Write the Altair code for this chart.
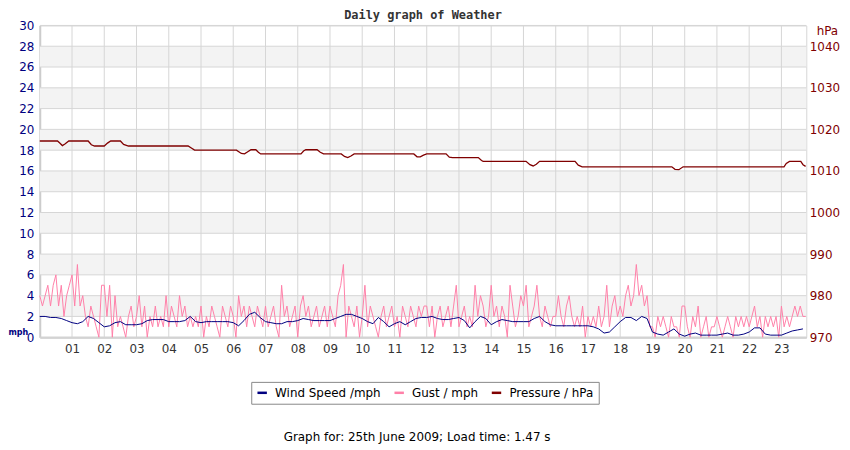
import numpy as np
import pandas as pd
import altair as alt

# gusts in mph, one reading every 5 minutes from 00:00 (one row per hour)
gust = [
    4, 3, 4, 5, 3, 5, 6, 3, 5, 2, 4, 5,   # 00
    6, 3, 7, 3, 4, 2, 1, 3, 2, 1, 0, 5,   # 01
    5, 2, 5, 0, 4, 1, 2, 1, 0, 2, 3, 1,   # 02
    2, 4, 1, 3, 0, 2, 1, 3, 1, 2, 1, 4,   # 03
    1, 3, 2, 1, 4, 2, 3, 1, 2, 1, 2, 1,   # 04
    3, 0, 2, 1, 3, 2, 1, 0, 3, 2, 1, 3,   # 05
    2, 0, 4, 2, 3, 1, 3, 2, 1, 3, 2, 1,   # 06
    3, 1, 2, 3, 1, 0, 5, 2, 3, 1, 2, 3,   # 07
    0, 3, 4, 2, 3, 1, 2, 3, 1, 2, 3, 1,   # 08
    3, 2, 1, 4, 5, 7, 0, 3, 2, 1, 3, 0,   # 09
    2, 5, 1, 3, 2, 1, 0, 2, 3, 1, 2, 3,   # 10
    1, 2, 0, 3, 2, 1, 3, 2, 1, 3, 2, 3,   # 11
    3, 1, 3, 0, 2, 3, 1, 2, 3, 1, 3, 5,   # 12
    1, 2, 3, 1, 2, 1, 5, 2, 4, 3, 1, 2,   # 13
    5, 2, 3, 1, 3, 2, 0, 5, 3, 1, 2, 4,   # 14
    3, 5, 1, 2, 3, 5, 2, 1, 3, 2, 1, 2,   # 15
    2, 4, 2, 1, 3, 4, 2, 1, 2, 1, 3, 0,   # 16
    2, 1, 2, 1, 3, 1, 2, 5, 1, 3, 4, 2,   # 17
    3, 2, 4, 5, 3, 4, 7, 4, 5, 3, 4, 1,   # 18
    1, 0, 2, 1, 2, 1, 0, 2, 1, 1, 0, 3,   # 19
    3, 1, 0, 2, 1, 3, 0, 1, 2, 0, 1, 1,   # 20
    2, 1, 0, 1, 2, 1, 0, 2, 1, 2, 1, 2,   # 21
    1, 2, 3, 1, 2, 0, 2, 1, 2, 1, 2, 0,   # 22
    3, 1, 2, 1, 2, 3, 2, 3, 2, 2,         # 23
]

# average wind speed in mph, one reading every 10 minutes
wind = [
    2.0, 2.0, 1.9, 1.9, 1.8, 1.6,
    1.4, 1.3, 1.5, 2.0, 1.8, 1.4,
    1.0, 1.1, 1.4, 1.5, 1.2, 1.2,
    1.2, 1.3, 1.6, 1.7, 1.7, 1.7,
    1.5, 1.5, 1.5, 1.6, 2.0, 1.5,
    1.4, 1.5, 1.5, 1.5, 1.5, 1.5,
    1.4, 1.1, 1.6, 2.2, 2.4, 1.9,
    1.5, 1.4, 1.3, 1.3, 1.5, 1.5,
    1.6, 1.8, 1.7, 1.6, 1.6, 1.6,
    1.6, 1.8, 2.0, 2.2, 2.2, 2.0,
    1.8, 1.5, 1.3, 1.9, 1.5, 1.0,
    1.3, 1.5, 1.2, 1.5, 1.8, 1.9,
    1.9, 2.0, 1.8, 1.7, 1.7, 1.8,
    1.9, 1.6, 0.9, 1.5, 2.0, 1.8,
    1.2, 1.5, 1.7, 1.6, 1.5, 1.5,
    1.5, 1.5, 1.8, 2.0, 1.5, 1.2,
    1.1, 1.1, 1.1, 1.1, 1.1, 1.1,
    1.1, 1.0, 0.8, 0.4, 0.5, 1.0,
    1.5, 1.9, 1.9, 1.6, 2.0, 1.8,
    0.5, 0.3, 0.2, 0.5, 0.8, 0.3,
    0.1, 0.3, 0.4, 0.2, 0.2, 0.2,
    0.2, 0.3, 0.4, 0.2, 0.2, 0.3,
    0.5, 0.9, 0.9, 0.3, 0.2, 0.2,
    0.2, 0.4, 0.6, 0.7, 0.8,
]

# pressure changes (hour of day, hPa)
pressure_hours = [
    0, 0.55, 0.62, 0.7, 0.78, 0.9, 1.5, 1.6, 1.7, 2.0, 2.1, 2.2, 2.5, 2.6, 2.75,
    4.6, 4.7, 4.8, 6.1, 6.25, 6.35, 6.45, 6.55, 6.7, 6.78, 6.85, 8.1, 8.18, 8.25,
    8.6, 8.7, 8.8, 9.35, 9.45, 9.55, 9.65, 9.75, 11.6, 11.7, 11.8, 11.9, 12.0,
    12.6, 12.7, 12.8, 13.6, 13.7, 13.75, 15.08, 15.2, 15.3, 15.4, 15.5, 16.6,
    16.7, 16.82, 19.6, 19.7, 19.82, 19.95, 23.08, 23.15, 23.25, 23.6, 23.67, 23.75,
]
pressure_hpa = [
    1017.2, 1017.2, 1016.7, 1016.1, 1016.5, 1017.2, 1017.2, 1016.3, 1016.0, 1016.0,
    1016.7, 1017.2, 1017.2, 1016.4, 1016.0, 1016.0, 1015.5, 1015.0, 1015.0, 1014.2,
    1014.1, 1014.6, 1015.1, 1015.1, 1014.5, 1014.1, 1014.1, 1014.8, 1015.1, 1015.1,
    1014.5, 1014.1, 1014.1, 1013.5, 1013.2, 1013.6, 1014.1, 1014.1, 1013.4, 1013.4,
    1013.8, 1014.1, 1014.1, 1013.3, 1013.2, 1013.2, 1012.5, 1012.3, 1012.3, 1011.5,
    1011.2, 1011.6, 1012.3, 1012.3, 1011.4, 1011.0, 1011.0, 1010.4, 1010.3, 1011.0,
    1011.0, 1011.8, 1012.3, 1012.3, 1011.5, 1011.1,
]

hour_ticks = list(range(1, 24))
mph_ticks = list(range(0, 31, 2))
hpa_ticks = list(range(970, 1041, 10))
band_starts = [2, 6, 10, 14, 18, 22, 26]

series_names = ["Wind Speed /mph", "Gust / mph", "Pressure / hPa"]
series_colors = ["#000080", "#ff80a8", "#800000"]
title = "Daily graph of Weather"
footer = "Graph for: 25th June 2009; Load time: 1.47 s"

x_end = 23.77
W, H = 772, 314
FONT = "DejaVu Sans"
GRID = "#d6d6d6"

gust_df = pd.DataFrame({"hour": np.arange(len(gust)) / 12, "mph": gust, "series": series_names[1]})
wind_df = pd.DataFrame({"hour": np.arange(len(wind)) / 6, "mph": wind, "series": series_names[0]})
press_df = pd.DataFrame({"hour": pressure_hours, "hpa": pressure_hpa, "series": series_names[2]})
bands_df = pd.DataFrame({"lo": band_starts, "hi": [b + 2 for b in band_starts], "x0": 0.0, "x1": x_end})
vgrid_df = pd.DataFrame({"hour": hour_ticks})
hgrid_df = pd.DataFrame({"v": mph_ticks})

xscale = alt.Scale(domain=[0, x_end], nice=False, zero=False)
mph_scale = alt.Scale(domain=[0, 30], nice=False)
hpa_scale = alt.Scale(domain=[970, 1045], nice=False, zero=False)

x_axis = alt.Axis(
    values=hour_ticks, labelExpr="datum.value < 10 ? '0' + datum.value : '' + datum.value",
    grid=False, ticks=False, domainColor="#cccccc", domainWidth=2, title=None,
    labelFont=FONT, labelFontSize=12, labelColor="#333333", labelPadding=6,
)
mph_axis = alt.Axis(
    values=mph_ticks, format="d", grid=False, ticks=False, domainColor="#cccccc", domainWidth=2,
    labelFont=FONT, labelFontSize=12, labelColor="#000080", labelPadding=6,
    title="mph", titleAngle=0, titleX=-32, titleY=308, titleAlign="left",
    titleBaseline="middle", titleFont="DejaVu Sans Condensed", titleFontSize=9,
    titleFontWeight="bold", titleColor="#000080",
)
hpa_axis = alt.Axis(
    orient="right", values=hpa_ticks, format="d", grid=False, ticks=False, domain=False,
    labelFont=FONT, labelFontSize=12, labelColor="#800000", labelPadding=3,
    title="hPa", titleAngle=0, titleX=10, titleY=5, titleAlign="left",
    titleBaseline="middle", titleFont=FONT, titleFontSize=12, titleFontWeight="normal",
    titleColor="#800000",
)

legend = alt.Legend(
    title=None, orient="none", legendX=213, legendY=359, direction="horizontal",
    symbolType="stroke", symbolStrokeWidth=2.5, symbolSize=90,
    labelFont=FONT, labelFontSize=12, labelColor="#000000", labelLimit=300,
    columnPadding=8, labelOffset=7, padding=5,
    strokeColor="#888888", fillColor="#ffffff",
)
color = alt.Color(
    "series:N", scale=alt.Scale(domain=series_names, range=series_colors), legend=legend
)

bands = alt.Chart(bands_df).mark_rect(color="#f3f3f3").encode(
    x=alt.X("x0:Q", scale=xscale, axis=x_axis),
    x2="x1:Q",
    y=alt.Y("lo:Q", scale=mph_scale, axis=mph_axis),
    y2="hi:Q",
)

vgrid = alt.Chart(vgrid_df).mark_rule(color=GRID, strokeWidth=1).encode(
    x=alt.X("hour:Q", scale=xscale, axis=x_axis)
)

hgrid = alt.Chart(hgrid_df).mark_rule(color=GRID, strokeWidth=1).encode(
    y=alt.Y("v:Q", scale=mph_scale, axis=mph_axis)
)

gust_line = alt.Chart(gust_df).mark_line(strokeWidth=1).encode(
    x=alt.X("hour:Q", scale=xscale, axis=x_axis),
    y=alt.Y("mph:Q", scale=mph_scale, axis=mph_axis),
    color=color,
)

wind_line = alt.Chart(wind_df).mark_line(strokeWidth=1).encode(
    x=alt.X("hour:Q", scale=xscale, axis=x_axis),
    y=alt.Y("mph:Q", scale=mph_scale, axis=mph_axis),
    color=color,
)

press_line = alt.Chart(press_df).mark_line(strokeWidth=1.3).encode(
    x=alt.X("hour:Q", scale=xscale, axis=x_axis),
    y=alt.Y("hpa:Q", scale=hpa_scale, axis=hpa_axis),
    color=color,
)

title_text = alt.Chart(pd.DataFrame({"t": [title]})).mark_text(
    font="DejaVu Sans Mono", fontSize=12, fontWeight="bold", color="#333333",
    align="center", baseline="middle",
).encode(text="t:N", x=alt.value(W / 2), y=alt.value(-11))

footer_text = alt.Chart(pd.DataFrame({"t": [footer]})).mark_text(
    font=FONT, fontSize=12, color="#000000", align="center", baseline="middle"
).encode(text="t:N", x=alt.value(380), y=alt.value(415))

mph_layer = alt.layer(bands, vgrid, hgrid, gust_line, wind_line)

chart = (
    alt.layer(mph_layer, press_line, title_text, footer_text)
    .resolve_scale(y="independent")
    .properties(
        width=W,
        height=H,
        autosize=alt.AutoSizeParams(type="none"),
        padding={"left": 32, "top": 16, "right": 36, "bottom": 110},
    )
    .configure_view(stroke=GRID)
)

chart.save("out.html", embed_options={"renderer": "svg", "actions": False})
